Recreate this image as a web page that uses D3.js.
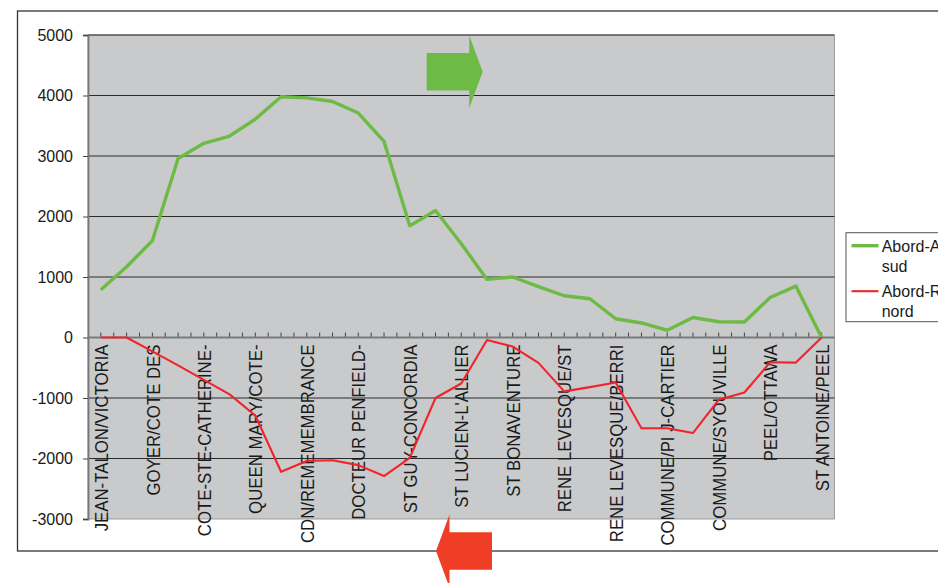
<!DOCTYPE html>
<html>
<head>
<meta charset="utf-8">
<script src="https://cdn.jsdelivr.net/npm/d3@7"></script>
<style>
  body { margin: 0; background: #fff; overflow: hidden; }
  text { font-family: "Liberation Sans", Arial, sans-serif; fill: #1a1a1a; }
</style>
</head>
<body>
<svg id="chart" width="938" height="583"></svg>
<script>
// Stop labels shown on the category axis (every second stop is labelled)
const stopLabels = [
  "JEAN-TALON/VICTORIA", "GOYER/COTE DES", "COTE-STE-CATHERINE-", "QUEEN MARY/COTE-",
  "CDN/REMEMEMBRANCE", "DOCTEUR PENFIELD-", "ST GUY-CONCORDIA", "ST LUCIEN-L'ALLIER",
  "ST BONAVENTURE", "RENE LEVESQUE/ST", "RENE LEVESQUE/BERRI", "COMMUNE/PI J-CARTIER",
  "COMMUNE/SYOUVILLE", "PEEL/OTTAWA", "ST ANTOINE/PEEL"
];
// Load per stop, southbound (positive) and northbound (negative)
const sudValues = [790, 1170, 1600, 2960, 3210, 3330, 3610, 3980, 3960, 3900, 3710, 3240, 1845, 2100,
  1550, 960, 1000, 840, 690, 640, 310, 240, 120, 330, 260, 255, 660, 850, 0];
const nordValues = [0, 0, -230, -460, -700, -940, -1290, -2220, -2040, -2030, -2110, -2290, -1990, -1000,
  -760, -40, -150, -420, -890, -820, -745, -1500, -1500, -1580, -1030, -910, -410, -415, 0];
const yTicks = [5000, 4000, 3000, 2000, 1000, 0, -1000, -2000, -3000];
const seriesNames = ["Abord-Aller", "sud", "Abord-Retour", "nord"];

const svg = d3.select("#chart");
const plot = { left: 88, right: 834.5, top: 35, bottom: 519 };

const x = d3.scalePoint().domain(d3.range(sudValues.length))
  .range([plot.left, plot.right]).padding(0.5);
const y = d3.scaleLinear().domain([-3000, 5000]).range([plot.bottom, plot.top]);

// outer chart frame
svg.append("rect").attr("x", 17.5).attr("y", 11).attr("width", 1000).attr("height", 540)
  .attr("fill", "#fff").attr("stroke", "#333").attr("stroke-width", 1.3);

// plot background
svg.append("rect").attr("x", plot.left).attr("y", plot.top)
  .attr("width", plot.right - plot.left).attr("height", plot.bottom - plot.top)
  .attr("fill", "#c9cacc").attr("stroke", "#8a8a8a").attr("stroke-width", 0.8);

// horizontal gridlines
svg.append("g").selectAll("line").data(yTicks.filter(v => v !== 0 && v !== -3000)).join("line")
  .attr("x1", plot.left).attr("x2", plot.right)
  .attr("y1", d => y(d)).attr("y2", d => y(d))
  .attr("stroke", "#2a2a2a").attr("stroke-width", 1);

// y axis (plain hyphen for negative numbers)
const yAxis = svg.append("g").attr("transform", `translate(${plot.left},0)`)
  .call(d3.axisLeft(y).tickValues(yTicks).tickFormat(d => String(d)).tickSize(5).tickPadding(10));
yAxis.select(".domain").attr("stroke", "#777").attr("stroke-width", 1.8);
yAxis.selectAll(".tick line").attr("stroke", "#444");
yAxis.selectAll(".tick text").style("font-size", "16px").attr("fill", "#1a1a1a");

// category axis along zero line, with half-step tick marks
const step = x.step();
const halfTicks = d3.range(0, (sudValues.length - 1) * 2 + 1).map(k => x(0) + k * step / 2);
svg.append("g").selectAll("line").data(halfTicks).join("line")
  .attr("x1", d => d).attr("x2", d => d)
  .attr("y1", y(0)).attr("y2", y(0) - 5)
  .attr("stroke", "#444").attr("stroke-width", 1);
svg.append("line").attr("x1", plot.left).attr("x2", plot.right)
  .attr("y1", y(0)).attr("y2", y(0)).attr("stroke", "#7a7a7a").attr("stroke-width", 1.8);

const xAxis = svg.append("g").attr("transform", `translate(0,${y(0)})`)
  .call(d3.axisBottom(x)
    .tickValues(d3.range(0, sudValues.length, 2))
    .tickFormat(i => stopLabels[i / 2])
    .tickSize(0));
xAxis.select(".domain").remove();
xAxis.selectAll(".tick text")
  .attr("transform", "scale(1.1,1) rotate(-90)")
  .attr("x", -7).attr("y", 0).attr("dy", "0.36em")
  .style("text-anchor", "end")
  .style("font-size", "16.8px")
  .attr("fill", "#1a1a1a");

// series lines
const line = d3.line().x((d, i) => x(i)).y(d => y(d));
svg.append("path").datum(sudValues).attr("d", line)
  .attr("fill", "none").attr("stroke", "#6dbb45").attr("stroke-width", 3.4)
  .attr("stroke-linejoin", "round");
svg.append("path").datum(nordValues).attr("d", line)
  .attr("fill", "none").attr("stroke", "#f0242a").attr("stroke-width", 2.1)
  .attr("stroke-linejoin", "round");

// direction arrows
function arrow(tipX, tipY, dir, color) {
  // dir = 1 points right, -1 points left
  const head = 13.5, halfHead = 36.5, body = 42.5, halfBody = 18.7;
  const bx = tipX - dir * head;
  const pts = [
    [tipX, tipY], [bx, tipY - halfHead], [bx, tipY - halfBody],
    [bx - dir * body, tipY - halfBody], [bx - dir * body, tipY + halfBody],
    [bx, tipY + halfBody], [bx, tipY + halfHead]
  ];
  svg.append("polygon").attr("points", pts.map(p => p.join(",")).join(" ")).attr("fill", color);
}
arrow(482.7, 71.8, 1, "#6dbb45");
arrow(436, 551, -1, "#ef3e25");

// legend
const lg = svg.append("g").attr("transform", "translate(846,232.7)");
lg.append("rect").attr("width", 200).attr("height", 89)
  .attr("fill", "#fff").attr("stroke", "#555").attr("stroke-width", 1);
const items = [
  { color: "#6dbb45", w: 3.4, lines: [seriesNames[0], seriesNames[1]], y: 13 },
  { color: "#f0242a", w: 2.1, lines: [seriesNames[2], seriesNames[3]], y: 58.5 }
];
items.forEach(it => {
  lg.append("line").attr("x1", 5.5).attr("x2", 32.5).attr("y1", it.y).attr("y2", it.y)
    .attr("stroke", it.color).attr("stroke-width", it.w);
  const t = lg.append("text").attr("x", 35.7).attr("y", it.y + 6)
    .style("font-size", "16px");
  it.lines.forEach((s, k) => {
    t.append("tspan").attr("x", 35.7).attr("dy", k === 0 ? 0 : 20).text(s);
  });
});
</script>
</body>
</html>
